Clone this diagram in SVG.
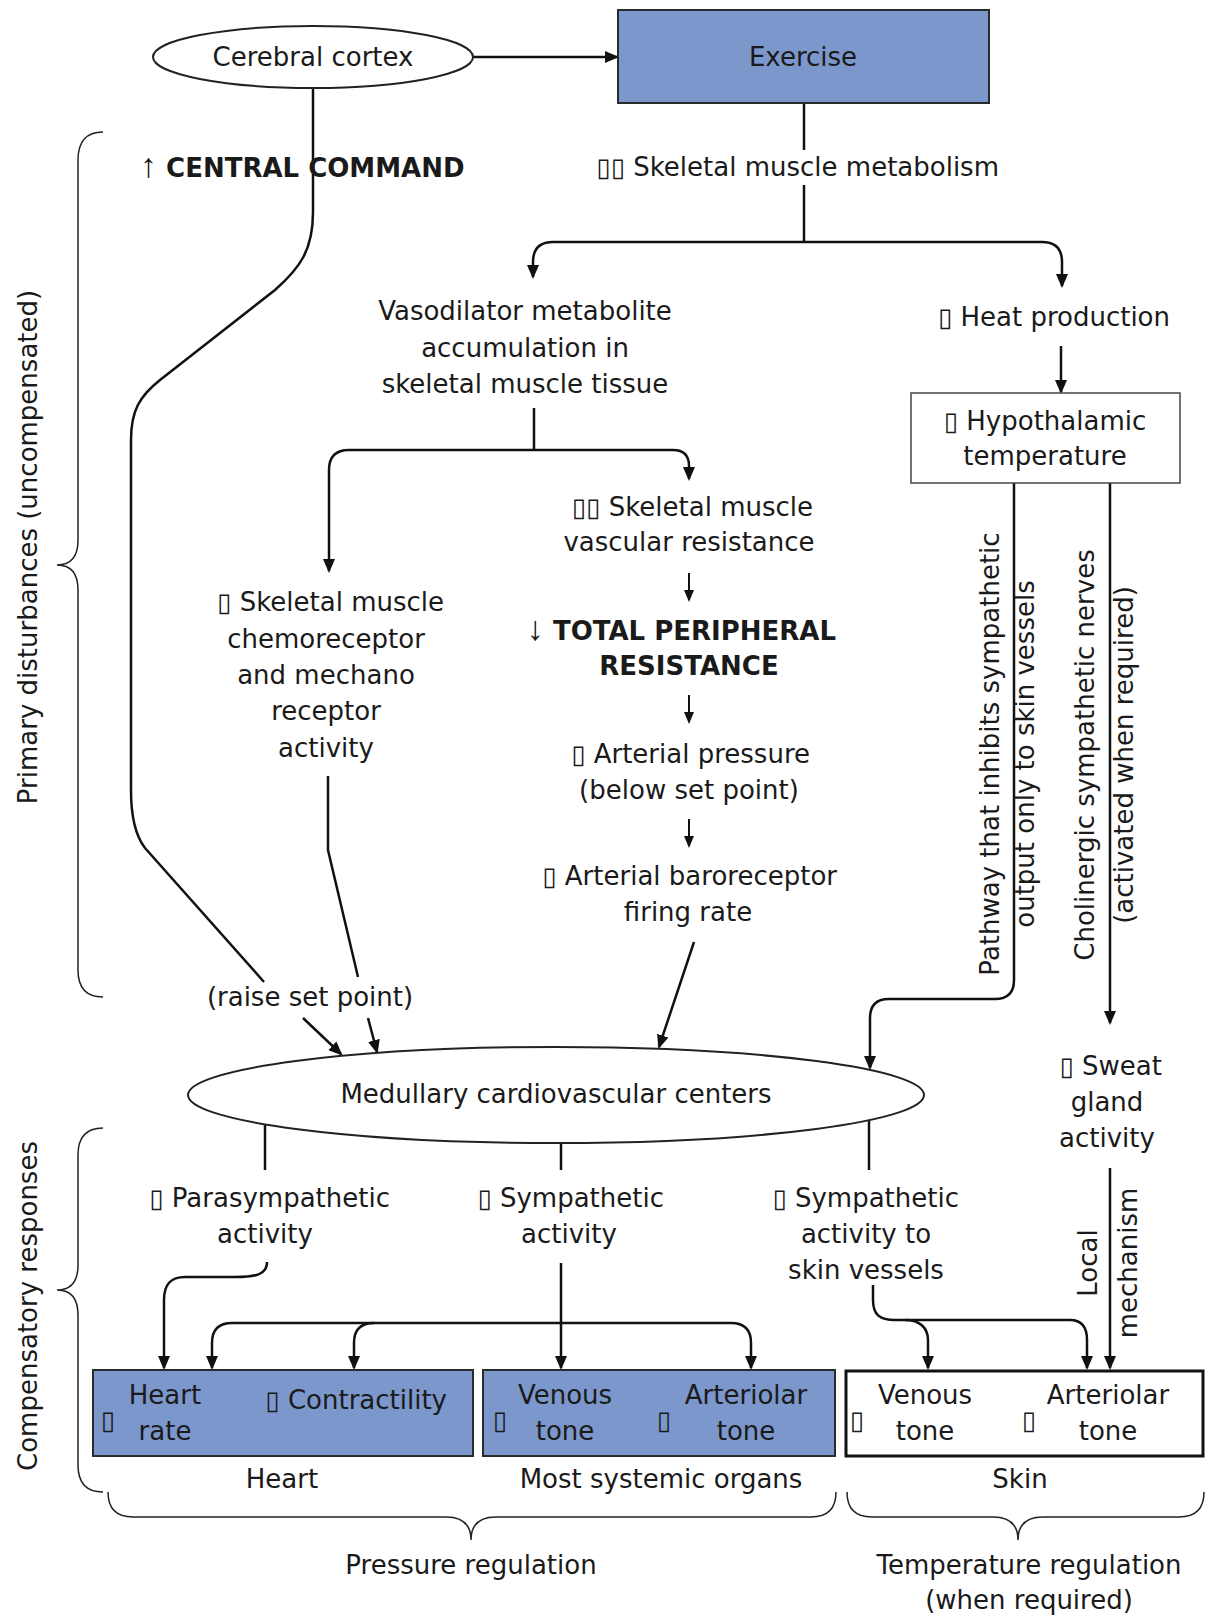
<svg xmlns="http://www.w3.org/2000/svg" width="1208" height="1619" viewBox="0 0 1208 1619">
<style>
text{font-family:"DejaVu Sans","Liberation Sans",sans-serif;font-size:26px;fill:#1a1a1a;text-anchor:middle}
.b{font-weight:bold}
.s{text-anchor:start}
.e{text-anchor:end}
.arr{font-family:"Liberation Sans","DejaVu Sans",sans-serif;font-weight:normal;font-size:34px}
.ln{fill:none;stroke:#111;stroke-width:2.5}
.thin{fill:none;stroke:#111;stroke-width:2}
.br{fill:none;stroke:#222;stroke-width:1.5}
.blue{fill:#7b97cb;stroke:#2a2a2a;stroke-width:2}
</style>
<defs>
<marker id="ah" viewBox="0 0 14 12" refX="12" refY="6" markerUnits="userSpaceOnUse" markerWidth="14" markerHeight="12" orient="auto-start-reverse">
<path d="M0,0 L14,6 L0,12 z" fill="#111"/>
</marker>
<marker id="as" viewBox="0 0 12 10" refX="10" refY="5" markerUnits="userSpaceOnUse" markerWidth="12" markerHeight="10" orient="auto">
<path d="M0,0 L12,5 L0,10 z" fill="#111"/>
</marker>
</defs>

<g id="braces">
<path class="br" d="M103,132 Q78,132 78,160 V540 Q78,565 57,565 Q78,565 78,590 V970 Q78,997 103,997"/>
<path class="br" d="M103,1128 Q78,1128 78,1155 V1265 Q78,1290 57,1290 Q78,1290 78,1315 V1465 Q78,1492 103,1492"/>
<path class="br" d="M108,1492 Q108,1517 133,1517 H446 Q471,1517 471,1540 Q471,1517 496,1517 H811 Q836,1517 836,1492"/>
<path class="br" d="M847,1492 Q847,1517 872,1517 H993 Q1018,1517 1018,1540 Q1018,1517 1043,1517 H1179 Q1204,1517 1204,1492"/>
<text transform="translate(37,547) rotate(-90)">Primary disturbances (uncompensated)</text>
<text transform="translate(37,1306) rotate(-90)">Compensatory responses</text>
<text x="471" y="1574">Pressure regulation</text>
<text x="1029" y="1574">Temperature regulation</text>
<text x="1029" y="1609">(when required)</text>
</g>

<g id="connectors">
<line class="ln" x1="473" y1="57" x2="617" y2="57" marker-end="url(#ah)"/>
<path class="ln" d="M313,88 V212 C313,250 300,268 275,290 L160,380 C140,396 131,410 131,440 V790 Q131,830 145,848 L264,982"/>
<line class="ln" x1="303" y1="1018" x2="341" y2="1054" marker-end="url(#ah)"/>
<path class="ln" d="M328,776 V850 L358,977"/>
<line class="ln" x1="368" y1="1018" x2="377" y2="1052" marker-end="url(#ah)"/>
<line class="ln" x1="804" y1="103" x2="804" y2="150"/>
<line class="ln" x1="804" y1="185" x2="804" y2="242"/>
<path class="ln" d="M533,277 V262 Q533,242 553,242 H1042 Q1062,242 1062,262 V286" marker-start="url(#ah)" marker-end="url(#ah)"/>
<line class="ln" x1="1061" y1="346" x2="1061" y2="392" marker-end="url(#ah)"/>
<line class="ln" x1="534" y1="408" x2="534" y2="450"/>
<path class="ln" d="M329,571 V470 Q329,450 349,450 H673 Q689,450 689,466 V479" marker-start="url(#ah)" marker-end="url(#ah)"/>
<line class="thin" x1="689" y1="573" x2="689" y2="600" marker-end="url(#as)"/>
<line class="thin" x1="689" y1="695" x2="689" y2="722" marker-end="url(#as)"/>
<line class="thin" x1="689" y1="819" x2="689" y2="846" marker-end="url(#as)"/>
<line class="ln" x1="694" y1="942" x2="659" y2="1047" marker-end="url(#ah)"/>
<path class="ln" d="M1014,483 V980 Q1014,999 995,999 H889 Q870,999 870,1018 V1068" marker-end="url(#ah)"/>
<line class="ln" x1="1110" y1="483" x2="1110" y2="1023" marker-end="url(#ah)"/>
<line class="ln" x1="265" y1="1124" x2="265" y2="1170"/>
<line class="ln" x1="561" y1="1143" x2="561" y2="1170"/>
<line class="ln" x1="869" y1="1120" x2="869" y2="1170"/>
<path class="ln" d="M267,1262 C267,1275 255,1277 235,1277 L185,1277 C170,1277 164,1285 164,1300 V1368" marker-end="url(#ah)"/>
<line class="ln" x1="561" y1="1263" x2="561" y2="1368" marker-end="url(#ah)"/>
<path class="ln" d="M212,1368 V1343 Q212,1323 232,1323 H731 Q751,1323 751,1343 V1368" marker-start="url(#ah)" marker-end="url(#ah)"/>
<path class="ln" d="M374,1323 Q354,1323 354,1343 V1368" marker-end="url(#ah)"/>
<path class="ln" d="M873,1285 V1300 C873,1315 880,1320 895,1320 H1070 C1082,1320 1087,1328 1087,1340 V1368" marker-end="url(#ah)"/>
<path class="ln" d="M905,1320 C920,1320 928,1328 928,1340 V1368" marker-end="url(#ah)"/>
<line class="ln" x1="1110" y1="1168" x2="1110" y2="1368" marker-end="url(#ah)"/>
</g>

<g id="cortex">
<ellipse cx="313" cy="57" rx="160" ry="31" fill="#fff" stroke="#222" stroke-width="2"/>
<text x="313" y="66">Cerebral cortex</text>
</g>
<g id="exercise">
<rect class="blue" x="618" y="10" width="371" height="93"/>
<text x="803" y="66">Exercise</text>
</g>
<g id="central-command">
<text class="b s" x="140" y="177"><tspan class="arr">↑</tspan> CENTRAL COMMAND</text>
</g>
<g id="metabolism">
<text class="e" x="999" y="176">▯▯ Skeletal muscle metabolism</text>
</g>
<g id="vasodilator">
<text x="525" y="320">Vasodilator metabolite</text>
<text x="525" y="357">accumulation in</text>
<text x="525" y="393">skeletal muscle tissue</text>
</g>
<g id="heat">
<text class="e" x="1170" y="326">▯ Heat production</text>
</g>
<g id="hypothalamic">
<rect x="911" y="393" width="269" height="90" fill="#fff" stroke="#444" stroke-width="1.5"/>
<text x="1045" y="430">▯ Hypothalamic</text>
<text x="1045" y="465">temperature</text>
</g>
<g id="vascular-resistance">
<text class="e" x="813" y="516">▯▯ Skeletal muscle</text>
<text x="689" y="551">vascular resistance</text>
</g>
<g id="tpr">
<text class="b e" x="836" y="640"><tspan class="arr">↓</tspan> TOTAL PERIPHERAL</text>
<text class="b" x="689" y="675">RESISTANCE</text>
</g>
<g id="arterial-pressure">
<text class="e" x="810" y="763">▯ Arterial pressure</text>
<text x="689" y="799">(below set point)</text>
</g>
<g id="baroreceptor">
<text class="e" x="837" y="885">▯ Arterial baroreceptor</text>
<text x="688" y="921">firing rate</text>
</g>
<g id="chemoreceptor">
<text class="e" x="444" y="611">▯ Skeletal muscle</text>
<text x="326" y="648">chemoreceptor</text>
<text x="326" y="684">and mechano</text>
<text x="326" y="720">receptor</text>
<text x="326" y="757">activity</text>
</g>
<g id="raise-label">
<text x="310" y="1006">(raise set point)</text>
</g>
<g id="pathway-label">
<text transform="translate(999,754) rotate(-90)">Pathway that inhibits sympathetic</text>
<text transform="translate(1034,754) rotate(-90)">output only to skin vessels</text>
</g>
<g id="cholinergic-label">
<text transform="translate(1094,755) rotate(-90)">Cholinergic sympathetic nerves</text>
<text transform="translate(1133,755) rotate(-90)">(activated when required)</text>
</g>
<g id="medullary">
<ellipse cx="556" cy="1095" rx="368" ry="48" fill="#fff" stroke="#222" stroke-width="2"/>
<text x="556" y="1103">Medullary cardiovascular centers</text>
</g>
<g id="sweat">
<text class="e" x="1162" y="1075">▯ Sweat</text>
<text x="1107" y="1111">gland</text>
<text x="1107" y="1147">activity</text>
</g>
<g id="local-label">
<text transform="translate(1097,1263) rotate(-90)">Local</text>
<text transform="translate(1137,1263) rotate(-90)">mechanism</text>
</g>
<g id="parasympathetic">
<text class="e" x="390" y="1207">▯ Parasympathetic</text>
<text x="265" y="1243">activity</text>
</g>
<g id="sympathetic">
<text class="e" x="664" y="1207">▯ Sympathetic</text>
<text x="569" y="1243">activity</text>
</g>
<g id="sympathetic-skin">
<text class="e" x="959" y="1207">▯ Sympathetic</text>
<text x="866" y="1243">activity to</text>
<text x="866" y="1279">skin vessels</text>
</g>
<g id="heart">
<rect class="blue" x="93" y="1370" width="380" height="86"/>
<text x="108" y="1429">▯</text>
<text x="165" y="1404">Heart</text>
<text x="165" y="1440">rate</text>
<text class="e" x="447" y="1409">▯ Contractility</text>
<text x="282" y="1488">Heart</text>
</g>
<g id="organs">
<rect class="blue" x="483" y="1370" width="352" height="86"/>
<text x="500" y="1429">▯</text>
<text x="565" y="1404">Venous</text>
<text x="565" y="1440">tone</text>
<text x="664" y="1429">▯</text>
<text x="746" y="1404">Arteriolar</text>
<text x="746" y="1440">tone</text>
<text x="661" y="1488">Most systemic organs</text>
</g>
<g id="skin">
<rect x="846" y="1371" width="357" height="85" fill="#fff" stroke="#111" stroke-width="3"/>
<text x="857" y="1429">▯</text>
<text x="925" y="1404">Venous</text>
<text x="925" y="1440">tone</text>
<text x="1029" y="1429">▯</text>
<text x="1108" y="1404">Arteriolar</text>
<text x="1108" y="1440">tone</text>
<text x="1020" y="1488">Skin</text>
</g>
</svg>
